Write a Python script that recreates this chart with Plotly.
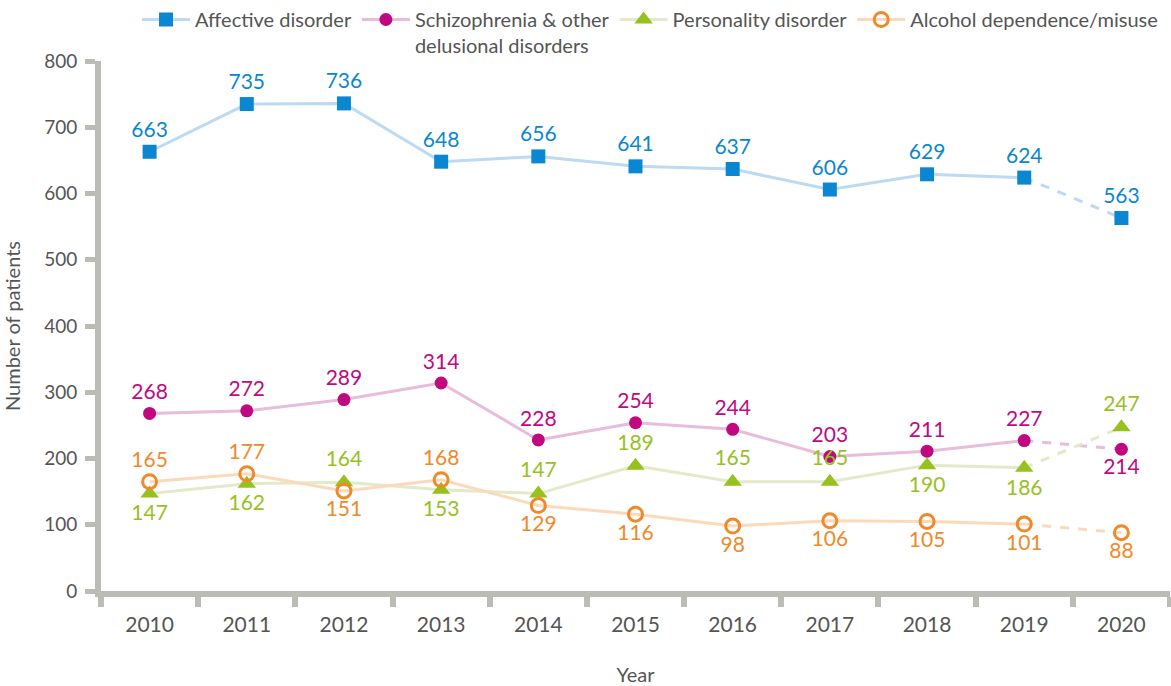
import plotly.graph_objects as go

years = ["2010", "2011", "2012", "2013", "2014", "2015", "2016", "2017", "2018", "2019", "2020"]
affective = [663, 735, 736, 648, 656, 641, 637, 606, 629, 624, 563]
schizophrenia = [268, 272, 289, 314, 228, 254, 244, 203, 211, 227, 214]
personality = [147, 162, 164, 153, 147, 189, 165, 165, 190, 186, 247]
alcohol = [165, 177, 151, 168, 129, 116, 98, 106, 105, 101, 88]

series_names = ["Affective disorder", "Schizophrenia & other<br>delusional disorders",
                "Personality disorder", "Alcohol dependence/misuse"]

T, B = "top center", "bottom center"
label_pos = [
    [T] * 11,
    [T] * 10 + [B],
    [B, B, T, B, T, T, T, T, B, B, T],
    [T, T, B, T, B, B, B, B, B, B, B],
]
styles = [
    dict(mc="#0a87d0", lc="#bcdaf2", sym="square", size=14, line=None),
    dict(mc="#c0087f", lc="#e8bcdb", sym="circle", size=13, line=None),
    dict(mc="#97c11f", lc="#e2ebc9", sym="triangle-up", size=16, line=None),
    dict(mc="#f0892a", lc="#fdd9bb", sym="circle-open", size=14, line=3),
]
data = [affective, schizophrenia, personality, alcohol]

FONT = "Lato"
LABEL_SIZE = 21
fig = go.Figure()

# dashed last segments first (underneath)
for vals, st in zip(data, styles):
    fig.add_trace(go.Scatter(
        x=years[-2:], y=vals[-2:], mode="lines", showlegend=False, hoverinfo="skip",
        line=dict(color=st["lc"], width=3, dash="dash")))

for name, vals, st, pos in zip(series_names, data, styles, label_pos):
    marker = dict(color=st["mc"], symbol=st["sym"], size=st["size"])
    if st["line"]:
        marker["line"] = dict(color=st["mc"], width=st["line"])
    fig.add_trace(go.Scatter(
        x=years[:-1], y=vals[:-1], mode="lines+markers+text", name=name,
        text=[str(v) for v in vals[:-1]], textposition=pos[:-1],
        textfont=dict(color=st["mc"], size=LABEL_SIZE, family=FONT),
        line=dict(color=st["lc"], width=3), marker=marker))
    fig.add_trace(go.Scatter(
        x=years[-1:], y=vals[-1:], mode="markers+text", showlegend=False,
        text=[str(vals[-1])], textposition=pos[-1:],
        textfont=dict(color=st["mc"], size=LABEL_SIZE, family=FONT),
        marker=marker))

axis_color = "#bcbcb6"
fig.update_layout(
    width=1171, height=686,
    paper_bgcolor="white", plot_bgcolor="white",
    margin=dict(l=101, r=1, t=61, b=95, autoexpand=False),
    font=dict(family=FONT, color="#555555", size=18),
    legend=dict(orientation="h", x=137 / 1171, xanchor="left", xref="container",
                y=1.0, yanchor="top", yref="container",
                font=dict(size=20, color="#555555", family=FONT),
                valign="top", itemwidth=48, tracegroupgap=0),
    xaxis=dict(type="category", categoryorder="array", categoryarray=years,
               showline=True, linecolor=axis_color, linewidth=6,
               ticks="outside", tickson="boundaries", ticklen=10, tickwidth=6,
               tickcolor=axis_color, showgrid=False, zeroline=False,
               tickfont=dict(size=21, color="#555555"), ticklabelstandoff=10,
               title=dict(text="Year", font=dict(size=20, color="#555555"), standoff=40),
               range=[-0.5, 10.5]),
    yaxis=dict(range=[0, 800], dtick=100, showline=True, linecolor=axis_color, linewidth=6,
               ticks="outside", ticklen=10, tickwidth=5, tickcolor=axis_color,
               showgrid=False, zeroline=False, ticklabelstandoff=4,
               tickfont=dict(size=19, color="#555555"),
               title=dict(text="Number of patients", font=dict(size=20, color="#555555"), standoff=20)),
)

fig.write_html("out.html", config={"displayModeBar": False},
               post_script="document.body.style.margin='0';")
